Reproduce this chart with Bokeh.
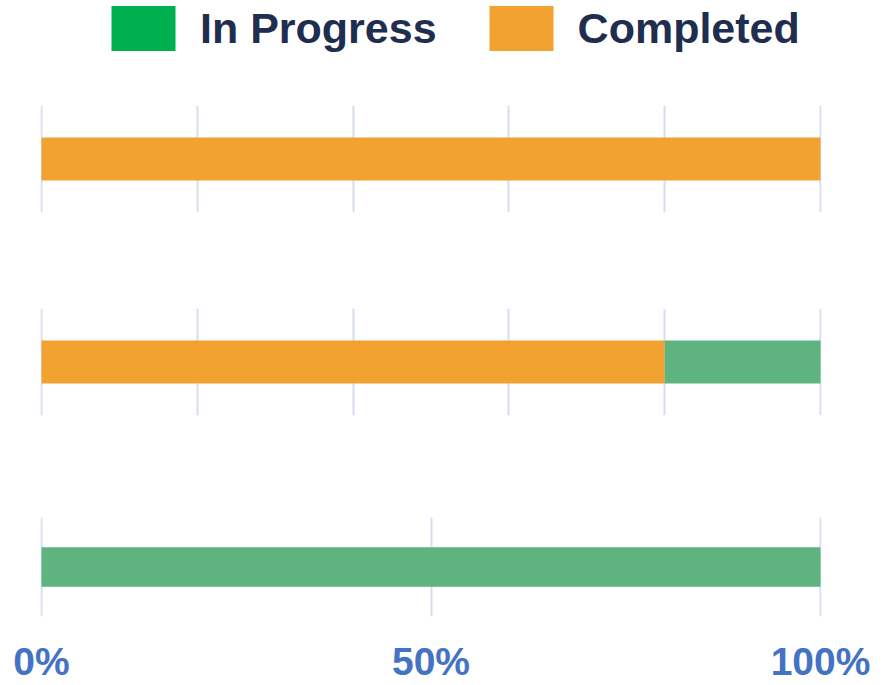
from bokeh.plotting import figure
from bokeh.models import (Range1d, FactorRange, FixedTicker, Grid, Legend, LegendItem,
                          ColumnDataSource, PrintfTickFormatter)
from bokeh.layouts import column
from bokeh.embed import file_html
from bokeh.resources import INLINE

# ---- data ----
tasks = ["Task A", "Task B", "Task C"]          # top to bottom
completed = [100, 80, 0]
in_progress = [0, 20, 100]
series = ["completed", "in_progress"]
grid_ticks = [[0, 20, 40, 60, 80, 100], [0, 20, 40, 60, 80, 100], [0, 50, 100]]
axis_ticks = [0, 50, 100]

# ---- styles ----
COL_DONE = "#F2A230"
COL_PROG_BAR = "#5EB37E"
COL_PROG_LEG = "#00B050"
GRID_COL = "#D6DDEE"
FONT = "Liberation Sans"
W = 880
LEFT = 40
FRAME_W = 781
PAD = 100 * 1.0 / 779   # one pixel beyond 0 and 100 so edge grid lines show

# ---- legend strip (zero-width proxy bars, only the legend is visible) ----
leg = figure(width=W, height=105, x_range=Range1d(0, 1), y_range=Range1d(0, 1),
             toolbar_location=None, output_backend="svg",
             x_axis_location=None, y_axis_location=None, min_border=0,
             outline_line_color=None)
leg.grid.visible = False
r_prog = leg.hbar(y=[0.5], left=[0], right=[0], height=0.1,
                  fill_color=COL_PROG_LEG, line_color=None)
r_done = leg.hbar(y=[0.5], left=[0], right=[0], height=0.1,
                  fill_color=COL_DONE, line_color=None)
legend = Legend(items=[LegendItem(label="In Progress", renderers=[r_prog]),
                       LegendItem(label="Completed", renderers=[r_done])],
                orientation="horizontal", location=(63, 49),
                glyph_width=80, glyph_height=56, label_standoff=17, spacing=44,
                padding=0, margin=0, border_line_color=None, background_fill_alpha=0,
                label_text_font=FONT, label_text_font_size="43px",
                label_text_font_style="bold", label_text_color="#1F2D4F")
leg.add_layout(legend, "center")

# ---- rows ----
heights = [203, 209, 168]
bottoms = [96, 102, 61]
figs = [leg]
for i, t in enumerate(tasks):
    last = i == len(tasks) - 1
    src = ColumnDataSource(dict(task=[t], completed=[completed[i]], in_progress=[in_progress[i]]))
    p = figure(width=W, height=heights[i], y_range=FactorRange(factors=[t], range_padding=0),
               x_range=Range1d(-PAD, 100 + PAD), toolbar_location=None, output_backend="svg",
               x_axis_location="below" if last else None, y_axis_location=None,
               min_border_left=LEFT, min_border_right=W - LEFT - FRAME_W,
               min_border_top=0, min_border_bottom=bottoms[i],
               outline_line_color=None)
    p.grid.visible = False
    p.add_layout(Grid(dimension=0, ticker=FixedTicker(ticks=grid_ticks[i]),
                      grid_line_color=GRID_COL, grid_line_width=2), "center")
    p.hbar_stack(series, y="task", height=0.4, source=src,
                 fill_color=[COL_DONE, COL_PROG_BAR], line_color=None)
    if last:
        ax = p.xaxis[0]
        ax.ticker = FixedTicker(ticks=axis_ticks)
        ax.formatter = PrintfTickFormatter(format="%d%%")
        ax.axis_line_color = None
        ax.major_tick_line_color = None
        ax.minor_tick_line_color = None
        ax.major_label_standoff = 17
        ax.major_label_text_font = FONT
        ax.major_label_text_font_size = "39px"
        ax.major_label_text_font_style = "bold"
        ax.major_label_text_color = "#4472C4"
    figs.append(p)

layout = column(*figs, spacing=0)
open("out.html", "w").write(file_html(layout, INLINE))
